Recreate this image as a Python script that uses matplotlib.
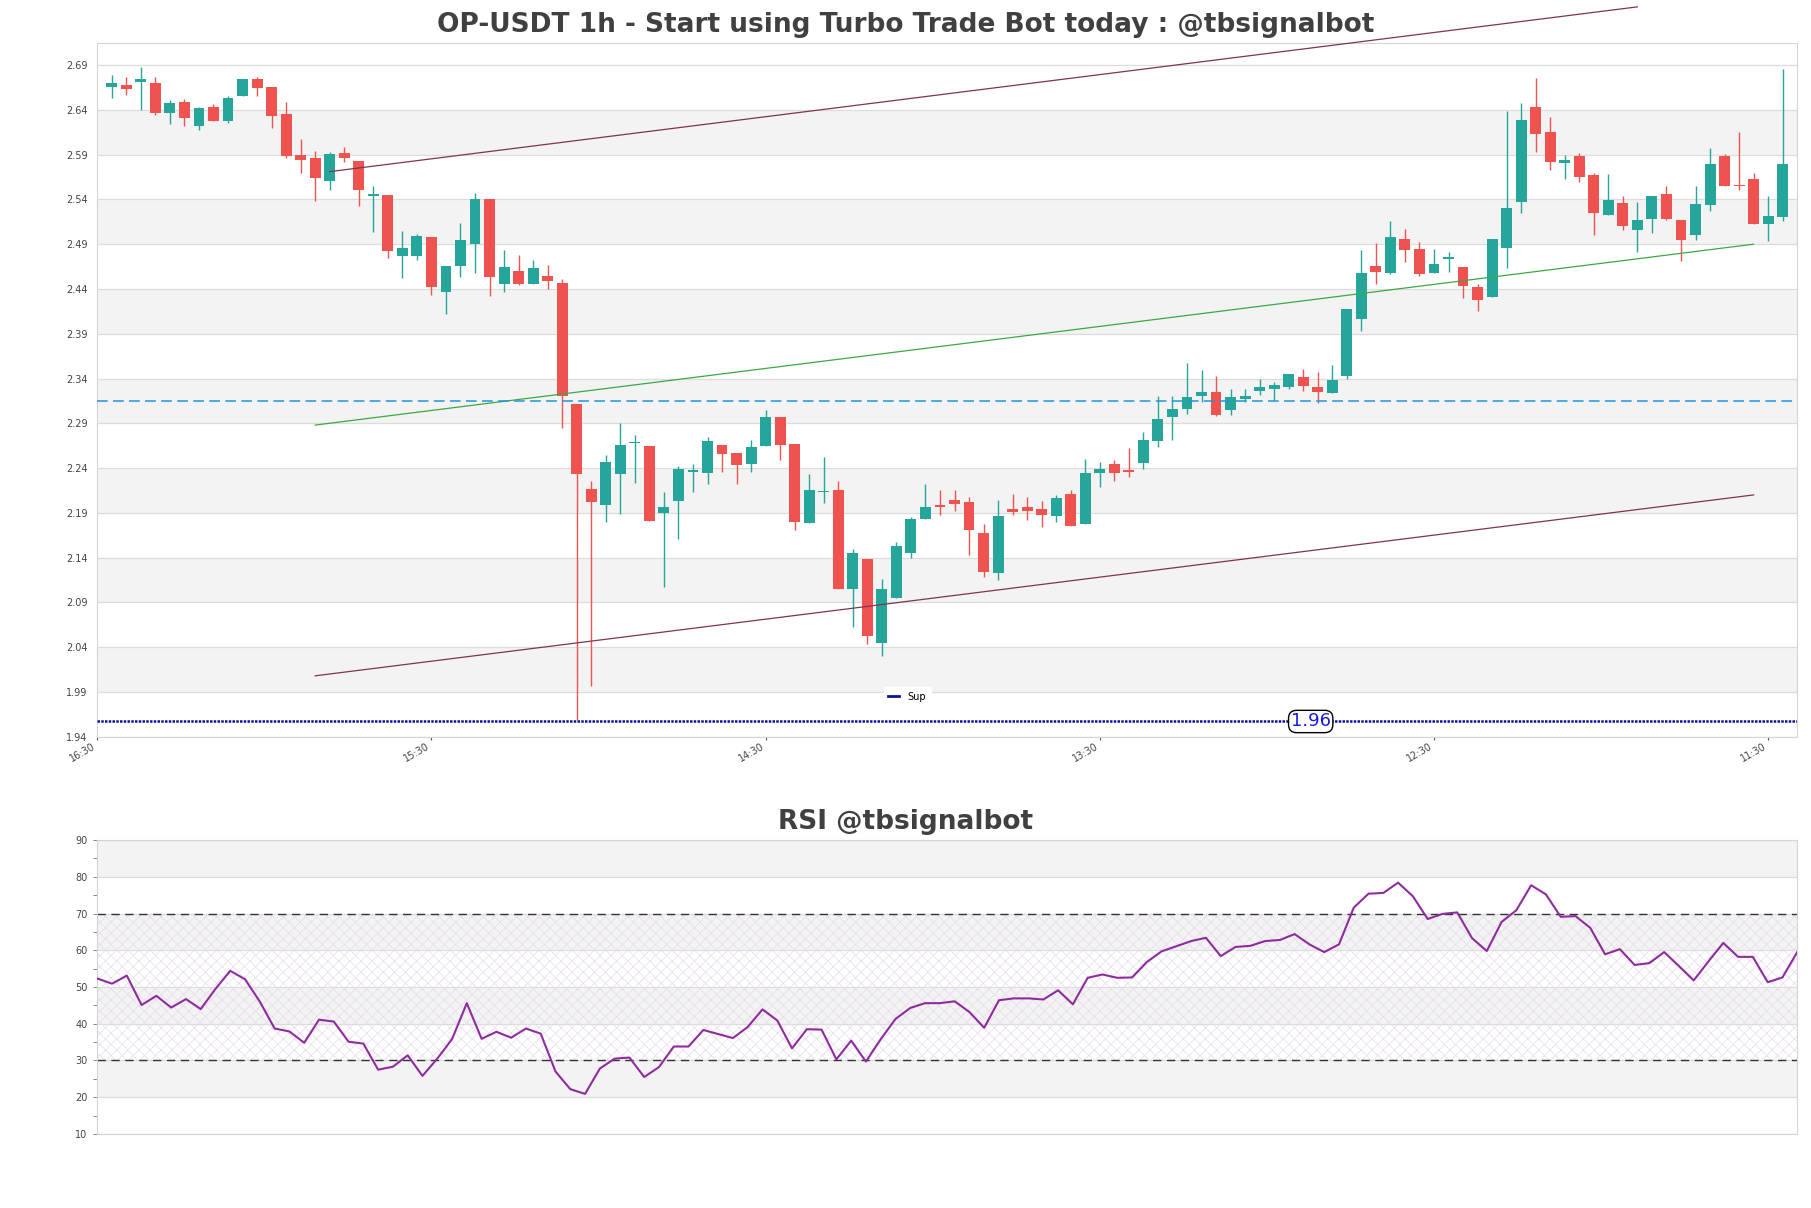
import numpy as np
import matplotlib
matplotlib.use('Agg')
import matplotlib.pyplot as plt

# candle data
opens = [2.666, 2.668, 2.671, 2.670, 2.636, 2.649, 2.622, 2.643, 2.627, 2.656,
         2.674, 2.665, 2.635, 2.590, 2.586, 2.561, 2.592, 2.583, 2.544, 2.545,
         2.477, 2.477, 2.498, 2.437, 2.466, 2.490, 2.540, 2.445, 2.460, 2.445,
         2.455, 2.447, 2.311, 2.217, 2.199, 2.233, 2.268, 2.265, 2.190, 2.203,
         2.236, 2.235, 2.266, 2.257, 2.244, 2.265, 2.297, 2.267, 2.179, 2.213,
         2.215, 2.105, 2.138, 2.045, 2.095, 2.145, 2.183, 2.199, 2.204, 2.202,
         2.168, 2.123, 2.194, 2.196, 2.194, 2.186, 2.211, 2.178, 2.235, 2.245,
         2.238, 2.246, 2.270, 2.297, 2.306, 2.321, 2.325, 2.305, 2.317, 2.326,
         2.328, 2.331, 2.342, 2.330, 2.324, 2.343, 2.407, 2.466, 2.458, 2.496,
         2.485, 2.458, 2.474, 2.465, 2.442, 2.431, 2.486, 2.537, 2.643, 2.615,
         2.581, 2.588, 2.567, 2.523, 2.536, 2.506, 2.518, 2.546, 2.517, 2.500,
         2.534, 2.589, 2.556, 2.563, 2.513, 2.520]
closes = [2.670, 2.663, 2.674, 2.636, 2.648, 2.631, 2.642, 2.627, 2.653, 2.675,
          2.664, 2.633, 2.589, 2.584, 2.564, 2.591, 2.586, 2.550, 2.545, 2.482,
          2.486, 2.499, 2.442, 2.466, 2.495, 2.540, 2.453, 2.465, 2.446, 2.463,
          2.449, 2.321, 2.233, 2.202, 2.247, 2.266, 2.269, 2.181, 2.197, 2.239,
          2.238, 2.270, 2.256, 2.243, 2.264, 2.297, 2.266, 2.180, 2.216, 2.214,
          2.105, 2.145, 2.052, 2.105, 2.153, 2.183, 2.196, 2.196, 2.200, 2.171,
          2.124, 2.187, 2.191, 2.192, 2.188, 2.207, 2.175, 2.234, 2.239, 2.234,
          2.236, 2.271, 2.295, 2.306, 2.319, 2.325, 2.299, 2.319, 2.321, 2.331,
          2.333, 2.345, 2.332, 2.325, 2.338, 2.418, 2.458, 2.459, 2.498, 2.483,
          2.457, 2.468, 2.475, 2.443, 2.428, 2.496, 2.530, 2.629, 2.613, 2.582,
          2.584, 2.565, 2.525, 2.539, 2.510, 2.517, 2.544, 2.518, 2.495, 2.535,
          2.580, 2.555, 2.555, 2.512, 2.522, 2.579]
highs = [2.679, 2.677, 2.6875, 2.677, 2.651, 2.652, 2.643, 2.647, 2.655, 2.675,
         2.677, 2.665, 2.649, 2.608, 2.594, 2.593, 2.598, 2.583, 2.555, 2.545,
         2.505, 2.501, 2.498, 2.466, 2.514, 2.547, 2.540, 2.483, 2.478, 2.472,
         2.467, 2.451, 2.311, 2.226, 2.255, 2.290, 2.277, 2.265, 2.213, 2.242,
         2.244, 2.275, 2.266, 2.257, 2.271, 2.305, 2.297, 2.267, 2.233, 2.252,
         2.225, 2.150, 2.138, 2.116, 2.157, 2.185, 2.222, 2.216, 2.216, 2.208,
         2.177, 2.204, 2.211, 2.208, 2.203, 2.210, 2.216, 2.250, 2.247, 2.249,
         2.262, 2.280, 2.320, 2.321, 2.357, 2.350, 2.343, 2.328, 2.328, 2.339,
         2.336, 2.345, 2.351, 2.347, 2.355, 2.418, 2.483, 2.491, 2.516, 2.507,
         2.492, 2.485, 2.481, 2.465, 2.446, 2.496, 2.639, 2.648, 2.676, 2.632,
         2.590, 2.592, 2.569, 2.568, 2.544, 2.537, 2.544, 2.555, 2.517, 2.555,
         2.597, 2.591, 2.615, 2.569, 2.544, 2.686]
lows = [2.653, 2.657, 2.640, 2.634, 2.624, 2.622, 2.617, 2.627, 2.625, 2.656,
        2.655, 2.620, 2.586, 2.569, 2.538, 2.550, 2.582, 2.533, 2.504, 2.475,
        2.452, 2.472, 2.433, 2.412, 2.453, 2.458, 2.432, 2.437, 2.444, 2.445,
        2.440, 2.285, 1.959, 1.997, 2.180, 2.189, 2.223, 2.181, 2.107, 2.161,
        2.213, 2.222, 2.236, 2.222, 2.236, 2.265, 2.249, 2.171, 2.179, 2.201,
        2.105, 2.063, 2.043, 2.030, 2.095, 2.140, 2.183, 2.188, 2.192, 2.143,
        2.118, 2.115, 2.188, 2.182, 2.174, 2.180, 2.175, 2.177, 2.219, 2.225,
        2.230, 2.239, 2.263, 2.271, 2.300, 2.314, 2.298, 2.299, 2.314, 2.322,
        2.316, 2.328, 2.326, 2.313, 2.324, 2.340, 2.393, 2.445, 2.457, 2.470,
        2.455, 2.458, 2.459, 2.430, 2.415, 2.431, 2.463, 2.525, 2.593, 2.573,
        2.563, 2.559, 2.500, 2.523, 2.506, 2.481, 2.502, 2.517, 2.471, 2.495,
        2.527, 2.555, 2.550, 2.512, 2.493, 2.516]

rsi = [52.3, 50.9, 53.1, 45.1, 47.6, 44.4, 46.7, 44.0, 49.5, 54.4,
       52.1, 46.0, 38.7, 37.9, 34.8, 41.1, 40.6, 35.1, 34.6, 27.5,
       28.3, 31.4, 25.8, 30.5, 35.8, 45.6, 35.9, 37.8, 36.2, 38.7,
       37.3, 27.0, 22.2, 20.9, 27.8, 30.5, 30.8, 25.5, 28.2, 33.8,
       33.8, 38.3, 37.2, 36.1, 39.1, 43.9, 40.9, 33.3, 38.5, 38.4,
       30.3, 35.4, 29.7, 35.8, 41.3, 44.3, 45.6, 45.6, 46.1, 43.2,
       38.9, 46.4, 46.9, 46.9, 46.6, 49.1, 45.3, 52.5, 53.4, 52.5,
       52.6, 56.8, 59.7, 61.1, 62.5, 63.4, 58.4, 60.9, 61.2, 62.5,
       62.8, 64.4, 61.6, 59.5, 61.6, 71.6, 75.4, 75.6, 78.4, 74.7,
       68.5, 69.9, 70.3, 63.3, 59.8, 67.7, 70.9, 77.7, 75.2, 69.1,
       69.3, 66.1, 58.9, 60.3, 56.0, 56.5, 59.5, 55.7, 51.8, 57.0,
       62.0, 58.2, 58.2, 51.3, 52.6, 59.5]

time_labels = ['16:30', '15:30', '14:30', '13:30', '12:30', '11:30']
tick_idx = [-1, 22, 45, 68, 91, 114]
price_ticks = [1.94, 1.99, 2.04, 2.09, 2.14, 2.19, 2.24, 2.29, 2.34, 2.39,
               2.44, 2.49, 2.54, 2.59, 2.64, 2.69]
rsi_ticks = [10, 20, 30, 40, 50, 60, 70, 80, 90]

# channel lines (start index, end index, start price, end price)
upper_line = ([15, 105], [2.571, 2.755])
mid_line = ([14, 113], [2.288, 2.490])
lower_line = ([14, 113], [2.008, 2.210])
level_line = 2.315
support = 1.957

UP = '#26a69a'
DOWN = '#ef5350'
BAND = '#f3f3f3'
GRID = '#dcdcdc'
TXT = '#444444'

plt.rcParams['hatch.linewidth'] = 0.5

fig = plt.figure(figsize=(18.11, 12.08), dpi=100)
ax = fig.add_axes([0.0537, 0.3897, 0.9387, 0.5745])
ax2 = fig.add_axes([0.0537, 0.0613, 0.9387, 0.2433])

x = np.arange(len(opens))
o = np.array(opens)
c = np.array(closes)
cols = [UP if cc >= oo else DOWN for oo, cc in zip(o, c)]

# bands + grid
for i in range(len(price_ticks) - 1):
    if i % 2 == 1:
        ax.axhspan(price_ticks[i], price_ticks[i + 1], color=BAND, lw=0, zorder=0)
for t in price_ticks:
    ax.axhline(t, color=GRID, lw=0.9, zorder=0.5)

ax.vlines(x, lows, highs, colors=cols, lw=1.0, zorder=2)
ax.bar(x, np.maximum(np.abs(c - o), 0.0015), bottom=np.minimum(o, c),
       width=0.75, color=cols, lw=0, zorder=3)

ax.plot(*upper_line, color='#7e3450', lw=0.9, zorder=4, clip_on=False)
ax.plot(*mid_line, color='#3aa845', lw=0.9, zorder=4)
ax.plot(*lower_line, color='#7e3450', lw=0.9, zorder=4)
ax.axhline(level_line, color='#1e96dc', lw=1.1, ls=(0, (7, 3.5)), zorder=4)
ax.axhline(support, color='#10109a', lw=1.8, ls=(0, (1, 0.5)), zorder=4, label='Sup')

ax.text(0.7138, support, f'{support:.2f}', transform=ax.get_yaxis_transform(),
        ha='center', va='center', fontsize=13, color='#1a1ae0', zorder=6,
        bbox=dict(boxstyle='round,pad=0.12,rounding_size=0.45', fc='white', ec='black', lw=1))

leg = ax.legend(loc='lower center', bbox_to_anchor=(0.4766, 0.044), fontsize=7,
                handlelength=1.1, handletextpad=0.9, borderpad=0.5,
                borderaxespad=0, frameon=True, fancybox=True)
leg.get_frame().set_edgecolor('white')
leg.get_frame().set_facecolor('white')
leg.get_frame().set_alpha(1)
for h in leg.get_lines():
    h.set_linestyle('-')
    h.set_linewidth(2)

ax.set_xlim(-1, len(opens))
ax.set_ylim(min(lows) * 0.99, max(highs) * 1.01)
ax.set_yticks(price_ticks)
ax.set_yticklabels([f'{t:.2f}' for t in price_ticks])
ax.set_xticks(tick_idx)
ax.set_xticklabels(time_labels, rotation=30, ha='right')
ax.tick_params(axis='y', length=0, pad=7, labelsize=7, labelcolor=TXT)
ax.tick_params(axis='x', length=2, width=0.8, pad=0.5, labelsize=7,
               labelcolor=TXT, color='#555555')
for s in ax.spines.values():
    s.set_color('#d4d4d4')

# RSI panel
for i in range(len(rsi_ticks) - 1):
    if i % 2 == 1:
        ax2.axhspan(rsi_ticks[i], rsi_ticks[i + 1], color=BAND, lw=0, zorder=0)
for t in rsi_ticks:
    ax2.axhline(t, color=GRID, lw=0.9, zorder=0.5)
xr = np.arange(len(rsi))
ax2.fill_between(xr, 30, 70, facecolor='none', edgecolor='#e6dbeb', hatch='xxx',
                 lw=0, zorder=1)
ax2.axhline(70, color='#333333', lw=1.0, ls=(0, (6, 4)), zorder=2)
ax2.axhline(30, color='#333333', lw=1.0, ls=(0, (6, 4)), zorder=2)
ax2.plot(xr, rsi, color='#8e2c9e', lw=1.5, zorder=3)
ax2.set_xlim(0, len(rsi) - 1)
ax2.set_ylim(10, 90)
ax2.set_yticks(rsi_ticks)
ax2.set_yticks(np.arange(15, 90, 10), minor=True)
ax2.set_xticks([])
ax2.tick_params(axis='y', which='both', length=3, width=0.7, color='#888888',
                pad=4, labelsize=7, labelcolor=TXT)
for s in ax2.spines.values():
    s.set_color('#d4d4d4')

fig.text(0.5, 0.9733, 'OP-USDT 1h - Start using Turbo Trade Bot today : @tbsignalbot',
         ha='center', va='baseline', fontsize=19, fontweight='bold', color='#404040')
fig.text(0.5, 0.3135, 'RSI @tbsignalbot', ha='center', va='baseline',
         fontsize=19, fontweight='bold', color='#404040')

fig.savefig('out.png', dpi=100)
